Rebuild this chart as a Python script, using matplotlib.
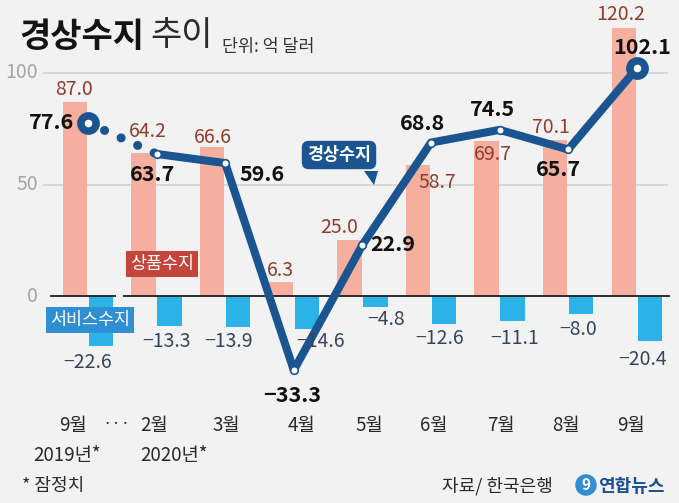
import numpy as np
import matplotlib
matplotlib.use('Agg')
import matplotlib.pyplot as plt
from matplotlib.patches import Polygon

plt.rcParams['font.family'] = ['Noto Sans CJK KR', 'DejaVu Sans']

# Data (억 달러)
months = ['9월', '2월', '3월', '4월', '5월', '6월', '7월', '8월', '9월']
years = ['2019년*', '2020년*']
goods = [87.0, 64.2, 66.6, 6.3, 25.0, 58.7, 69.7, 70.1, 120.2]        # 상품수지
services = [-22.6, -13.3, -13.9, -14.6, -4.8, -12.6, -11.1, -8.0, -20.4]  # 서비스수지
current = [77.6, 63.7, 59.6, -33.3, 22.9, 68.8, 74.5, 65.7, 102.1]     # 경상수지
yticks = [0, 50, 100]

# colours
BG = '#f2f2f3'
NAVY = '#1a5592'
GOODS_C = '#f6ae9e'
SERV_C = '#2bb3e8'
GOODS_TXT = '#8e3e2c'
SERV_TXT = '#36465a'

W, H = 679, 503
fig = plt.figure(figsize=(W / 100, H / 100), dpi=100, facecolor=BG)
ax = fig.add_axes([0, 0, 1, 1])
ax.set_facecolor(BG)
ax.axis('off')

# layout in pixels: category i at X0 + i*STEP, value 0 at Y0, PPU px per unit
X0, STEP, Y0, PPU = 88, 68.6, 296, 2.23
ax.set_xlim(-X0 / STEP, (W - X0) / STEP)
ax.set_ylim((Y0 - H) / PPU, Y0 / PPU)


def px(v):
    return (v - X0) / STEP


def py(v):
    return (Y0 - v) / PPU


def note(xv, yv, s, dx, dy, **kw):
    # offset given in pixels (dy positive = down)
    ax.annotate(s, (xv, yv), xytext=(dx * 0.72, -dy * 0.72), textcoords='offset points',
                ha=kw.pop('ha', 'center'), va='center', **kw)


x = np.arange(len(months))
bw, off = 0.357, 0.19

# grid and baseline
ax.hlines(yticks[1:], px(43), px(668), color='#d2d2d2', lw=1.2, zorder=1)
ax.hlines(0, px(50), px(116), color='#1e1e1e', lw=1.3, zorder=3)
ax.hlines(0, px(123), px(670), color='#1e1e1e', lw=1.3, zorder=3)
for t in yticks:
    ax.text(px(38), t, str(t), ha='right', va='center', fontsize=14, color='#a5a5a5')

# bars
ax.bar(x - off, goods, bw, color=GOODS_C, zorder=2)
ax.bar(x + off, services, bw, color=SERV_C, zorder=2)

# current account line (dotted across the gap in the series)
ax.plot(x[:2], current[:2], color=NAVY, lw=6.5, linestyle=(0, (0.01, 2.0)),
        dash_capstyle='round', zorder=4)
ax.plot(x[1:], current[1:], color=NAVY, lw=5.8, solid_joinstyle='round',
        solid_capstyle='round', zorder=4)
ax.plot(x[1:-1], current[1:-1], 'o', ms=5.5, mfc='white', mec=NAVY, mew=1.2, zorder=5)
ax.plot(x[[0, -1]], [current[0], current[-1]], 'o', ms=11, mfc='white', mec=NAVY,
        mew=5.4, zorder=5)

# value labels
goods_off = [(-1, -12), (4, -21), (1, -10), (0, -11), (-10, -13), (19, 17), (6, 14), (-4, -12), (-3, -13)]
serv_off = [(-13, 16), (-3, 16), (-10, 15), (14, 13), (11, 13), (-4, 14), (2, 18), (-3, 16), (-7, 18)]
cur_off = [(-36, 0), (-4, 21), (37, 11), (-2, 25), (30, 0), (-8, -19), (-7, -20), (-10, 20), (5, -21)]

for i in range(len(months)):
    note(x[i] - off, goods[i], f'{goods[i]:.1f}', *goods_off[i], fontsize=14,
         color=GOODS_TXT, zorder=6)
    note(x[i] + off, services[i], f'{services[i]:.1f}'.replace('-', '−'), *serv_off[i],
         fontsize=14, color=SERV_TXT, zorder=6)
    note(x[i], current[i], f'{current[i]:.1f}'.replace('-', '−'), *cur_off[i],
         fontsize=15.5, color='#111111', weight='bold', zorder=6)

# category labels
month_dx = [-15, -3, 1, 8, 7, 3, 1, -2, -6]
for i, m in enumerate(months):
    ax.text(x[i] + month_dx[i] / STEP, py(426), m, ha='center', va='center',
            fontsize=13.5, color='#2a2a2a')
ax.text(px(67), py(455), years[0], ha='center', va='center', fontsize=13.5, color='#2a2a2a')
ax.text(px(140), py(455), years[1], ha='left', va='center', fontsize=13.5, color='#2a2a2a')
ax.text(px(117), py(424), '···', ha='center', va='center', fontsize=12, color='#2a2a2a')

# series tags
ax.text(px(339), py(155), '경상수지', ha='center', va='center', fontsize=12.5,
        weight='bold', color='white', zorder=7,
        bbox=dict(boxstyle='round,pad=0.3,rounding_size=0.4', fc=NAVY, ec='none'))
ax.add_patch(Polygon([(px(364), py(171)), (px(378), py(171)), (px(374), py(185))],
                     closed=True, fc=NAVY, ec='none', zorder=7))
ax.text(px(162), py(264), '상품수지', ha='center', va='center', fontsize=12.5,
        color='white', zorder=7,
        bbox=dict(boxstyle='square,pad=0.25', fc='#c4463b', ec='none'))
ax.text(px(90), py(320), '서비스수지', ha='center', va='center', fontsize=12.5,
        color='white', zorder=7,
        bbox=dict(boxstyle='square,pad=0.22', fc='#2f8fd2', ec='none'))

# title
ax.text(px(19), py(36), '경상수지', ha='left', va='center', fontsize=24.5,
        weight='bold', color='#141414')
ax.text(px(150), py(36), '추이', ha='left', va='center', fontsize=24.5, color='#2a2a2a')
ax.text(px(222), py(47), '단위: 억 달러', ha='left', va='center', fontsize=12.5,
        color='#333333')

# footer
ax.text(px(22), py(486), '* 잠정치', ha='left', va='center', fontsize=13, color='#2a2a2a')
ax.text(px(553), py(486), '자료/ 한국은행', ha='right', va='center', fontsize=13,
        color='#2a2a2a')
ax.text(px(586), py(485), '9', ha='center', va='center', fontsize=11, style='italic',
        weight='bold', color='white',
        bbox=dict(boxstyle='circle,pad=0.18', fc='#2f8fd2', ec='none'))
ax.text(px(598), py(486), '연합뉴스', ha='left', va='center', fontsize=13,
        weight='bold', color='#1c4f92')

fig.savefig('out.png', dpi=100, facecolor=BG)
